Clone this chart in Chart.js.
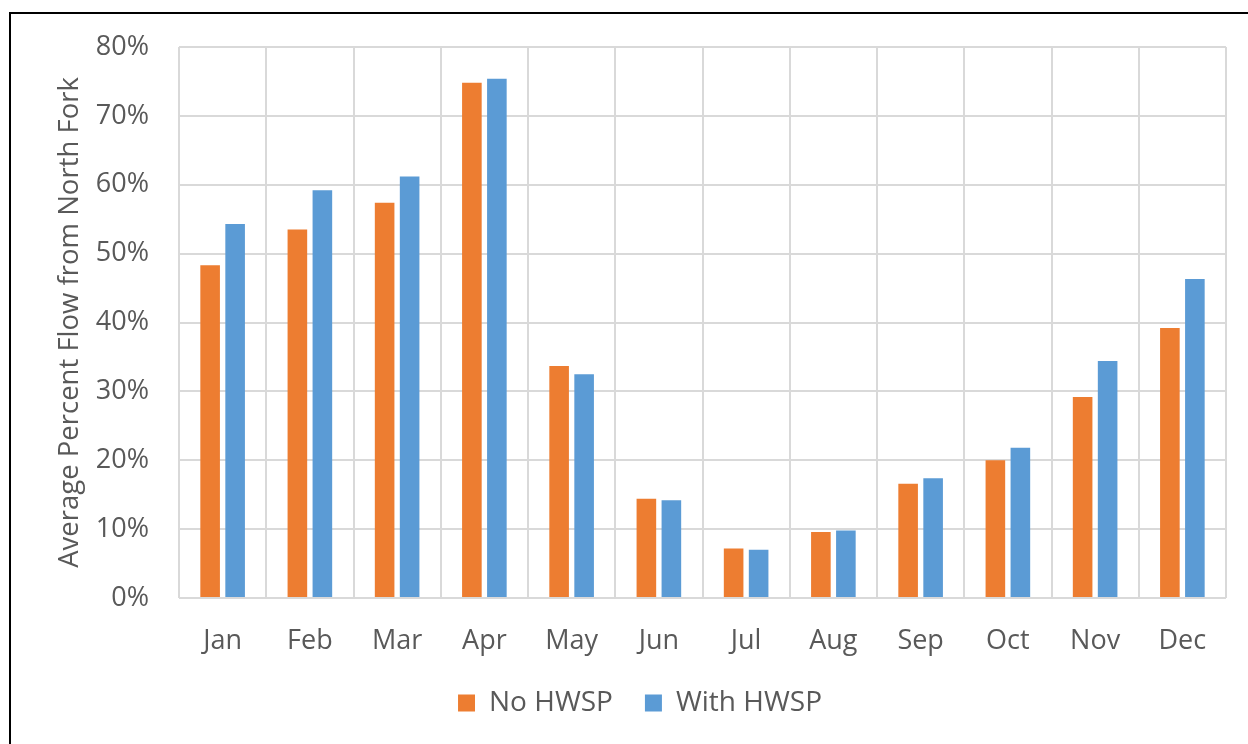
<!DOCTYPE html>
<html>
<head>
<meta charset="utf-8">
<script src="https://cdn.jsdelivr.net/npm/chart.js@4"></script>
<style>
  html, body { margin: 0; padding: 0; background: #ffffff; }
  #wrap { width: 1248px; height: 744px; position: relative; }
</style>
</head>
<body>
<div id="wrap"><canvas id="c" width="1248" height="744"></canvas></div>
<script>
const categories = ['Jan', 'Feb', 'Mar', 'Apr', 'May', 'Jun', 'Jul', 'Aug', 'Sep', 'Oct', 'Nov', 'Dec'];
const noHWSP   = [48.3, 53.5, 57.4, 74.8, 33.7, 14.4, 7.2, 9.6, 16.6, 20.0, 29.2, 39.2];
const withHWSP = [54.3, 59.2, 61.2, 75.4, 32.5, 14.2, 7.0, 9.8, 17.4, 21.8, 34.4, 46.3];
const seriesNames = ['No HWSP', 'With HWSP'];
const yAxisTitle = 'Average Percent Flow from North Fork';
const yTickValues = [0, 10, 20, 30, 40, 50, 60, 70, 80];

const textColor = '#595959';
const gridColor = '#d9d9d9';
const fontFamily = '"Open Sans", "Noto Sans", sans-serif';

const framePlugin = {
  id: 'frame',
  beforeDraw(chart) {
    const ctx = chart.ctx;
    ctx.save();
    ctx.fillStyle = '#ffffff';
    ctx.fillRect(0, 0, chart.width, chart.height);
    ctx.restore();
  },
  afterDraw(chart) {
    const ctx = chart.ctx;
    ctx.save();
    ctx.strokeStyle = '#000000';
    ctx.lineWidth = 2;
    ctx.strokeRect(10, 13, 3000, 3000);
    ctx.restore();
  }
};

new Chart(document.getElementById('c'), {
  type: 'bar',
  data: {
    labels: categories,
    datasets: [
      { label: seriesNames[0], data: noHWSP, backgroundColor: '#ED7D31',
        categoryPercentage: 0.573, barPercentage: 0.784 },
      { label: seriesNames[1], data: withHWSP, backgroundColor: '#5B9BD5',
        categoryPercentage: 0.573, barPercentage: 0.784 }
    ]
  },
  options: {
    responsive: false,
    animation: false,
    devicePixelRatio: 1,
    layout: { padding: { left: 54, right: 22, top: 47, bottom: 17 } },
    plugins: {
      tooltip: { enabled: false },
      legend: {
        position: 'bottom',
        labels: {
          boxWidth: 17, boxHeight: 17, padding: 32,
          color: textColor,
          font: { family: fontFamily, size: 28 }
        }
      }
    },
    scales: {
      x: {
        grid: { color: gridColor, lineWidth: 2, drawTicks: false, offset: true },
        border: { display: false },
        ticks: { color: textColor, font: { family: fontFamily, size: 27 }, padding: 27, maxRotation: 0 },
        afterFit(scale) { scale.height = 59; }
      },
      y: {
        min: 0, max: 80,
        afterBuildTicks(scale) { scale.ticks = yTickValues.map(v => ({ value: v })); },
        grid: { color: gridColor, lineWidth: 2, drawTicks: false },
        border: { display: false },
        ticks: {
          color: textColor, font: { family: fontFamily, size: 27 }, padding: 30,
          callback: v => v + '%'
        },
        title: {
          display: true, text: yAxisTitle, color: textColor,
          font: { family: fontFamily, size: 27.5 }, padding: { top: 0, bottom: 0 }
        },
        afterFit(scale) { scale.width = 125; }
      }
    }
  },
  plugins: [framePlugin]
});
</script>
</body>
</html>
